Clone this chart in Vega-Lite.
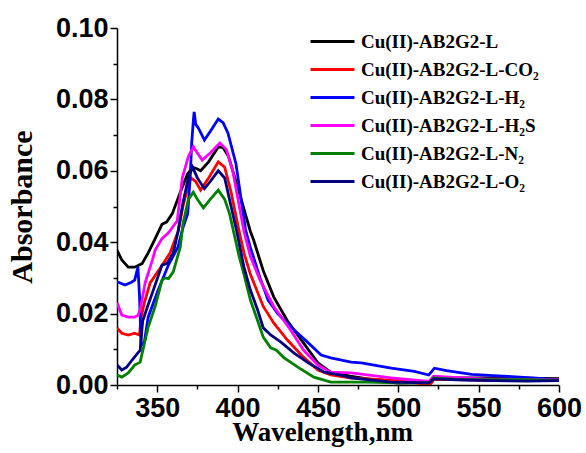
{
"$schema":"https://vega.github.io/schema/vega-lite/v6.json",
"width":442,"height":357,
"autosize":{"type":"none"},
"padding":{"left":117,"top":28,"right":27,"bottom":68},
"background":"white",
"config":{"view":{"stroke":null}},
"data":{"values":[
{"s":"Cu(II)-AB2G2-L","wl":325,"a":0.0378},{"s":"Cu(II)-AB2G2-L","wl":328,"a":0.035},{"s":"Cu(II)-AB2G2-L","wl":332,"a":0.033},{"s":"Cu(II)-AB2G2-L","wl":336,"a":0.033},{"s":"Cu(II)-AB2G2-L","wl":340.6,"a":0.034},{"s":"Cu(II)-AB2G2-L","wl":344.4,"a":0.037},{"s":"Cu(II)-AB2G2-L","wl":348.75,"a":0.041},{"s":"Cu(II)-AB2G2-L","wl":353,"a":0.045},{"s":"Cu(II)-AB2G2-L","wl":356,"a":0.0457},{"s":"Cu(II)-AB2G2-L","wl":359.4,"a":0.048},{"s":"Cu(II)-AB2G2-L","wl":364.4,"a":0.054},{"s":"Cu(II)-AB2G2-L","wl":368.75,"a":0.059},{"s":"Cu(II)-AB2G2-L","wl":372,"a":0.061},{"s":"Cu(II)-AB2G2-L","wl":375,"a":0.0605},{"s":"Cu(II)-AB2G2-L","wl":377,"a":0.060},{"s":"Cu(II)-AB2G2-L","wl":382,"a":0.0625},{"s":"Cu(II)-AB2G2-L","wl":388,"a":0.0667},{"s":"Cu(II)-AB2G2-L","wl":391,"a":0.0665},{"s":"Cu(II)-AB2G2-L","wl":394.4,"a":0.064},{"s":"Cu(II)-AB2G2-L","wl":400.6,"a":0.0546},{"s":"Cu(II)-AB2G2-L","wl":408,"a":0.043},{"s":"Cu(II)-AB2G2-L","wl":410,"a":0.0406},{"s":"Cu(II)-AB2G2-L","wl":416,"a":0.032},{"s":"Cu(II)-AB2G2-L","wl":422.5,"a":0.0247},{"s":"Cu(II)-AB2G2-L","wl":431,"a":0.018},{"s":"Cu(II)-AB2G2-L","wl":441,"a":0.0118},{"s":"Cu(II)-AB2G2-L","wl":450,"a":0.0062},{"s":"Cu(II)-AB2G2-L","wl":458,"a":0.0036},{"s":"Cu(II)-AB2G2-L","wl":470,"a":0.0025},{"s":"Cu(II)-AB2G2-L","wl":480,"a":0.0018},{"s":"Cu(II)-AB2G2-L","wl":490,"a":0.001},{"s":"Cu(II)-AB2G2-L","wl":500,"a":0.0005},{"s":"Cu(II)-AB2G2-L","wl":510,"a":0.0006},{"s":"Cu(II)-AB2G2-L","wl":519,"a":0.0006},{"s":"Cu(II)-AB2G2-L","wl":522,"a":0.002},{"s":"Cu(II)-AB2G2-L","wl":540,"a":0.002},{"s":"Cu(II)-AB2G2-L","wl":560,"a":0.002},{"s":"Cu(II)-AB2G2-L","wl":580,"a":0.0019},{"s":"Cu(II)-AB2G2-L","wl":600,"a":0.0018},
{"s":"Cu(II)-AB2G2-L-CO₂","wl":325,"a":0.016},{"s":"Cu(II)-AB2G2-L-CO₂","wl":328,"a":0.0145},{"s":"Cu(II)-AB2G2-L-CO₂","wl":332,"a":0.014},{"s":"Cu(II)-AB2G2-L-CO₂","wl":336,"a":0.0145},{"s":"Cu(II)-AB2G2-L-CO₂","wl":339,"a":0.014},{"s":"Cu(II)-AB2G2-L-CO₂","wl":340,"a":0.019},{"s":"Cu(II)-AB2G2-L-CO₂","wl":342,"a":0.023},{"s":"Cu(II)-AB2G2-L-CO₂","wl":345.6,"a":0.0286},{"s":"Cu(II)-AB2G2-L-CO₂","wl":352,"a":0.0328},{"s":"Cu(II)-AB2G2-L-CO₂","wl":358,"a":0.037},{"s":"Cu(II)-AB2G2-L-CO₂","wl":363,"a":0.043},{"s":"Cu(II)-AB2G2-L-CO₂","wl":366,"a":0.050},{"s":"Cu(II)-AB2G2-L-CO₂","wl":369.4,"a":0.056},{"s":"Cu(II)-AB2G2-L-CO₂","wl":371,"a":0.058},{"s":"Cu(II)-AB2G2-L-CO₂","wl":374,"a":0.057},{"s":"Cu(II)-AB2G2-L-CO₂","wl":377,"a":0.0546},{"s":"Cu(II)-AB2G2-L-CO₂","wl":382,"a":0.058},{"s":"Cu(II)-AB2G2-L-CO₂","wl":388,"a":0.0625},{"s":"Cu(II)-AB2G2-L-CO₂","wl":392,"a":0.061},{"s":"Cu(II)-AB2G2-L-CO₂","wl":396,"a":0.054},{"s":"Cu(II)-AB2G2-L-CO₂","wl":401,"a":0.043},{"s":"Cu(II)-AB2G2-L-CO₂","wl":404,"a":0.037},{"s":"Cu(II)-AB2G2-L-CO₂","wl":408,"a":0.031},{"s":"Cu(II)-AB2G2-L-CO₂","wl":416,"a":0.022},{"s":"Cu(II)-AB2G2-L-CO₂","wl":422.5,"a":0.0174},{"s":"Cu(II)-AB2G2-L-CO₂","wl":431,"a":0.0126},{"s":"Cu(II)-AB2G2-L-CO₂","wl":441,"a":0.0078},{"s":"Cu(II)-AB2G2-L-CO₂","wl":450,"a":0.0042},{"s":"Cu(II)-AB2G2-L-CO₂","wl":458,"a":0.0028},{"s":"Cu(II)-AB2G2-L-CO₂","wl":470,"a":0.002},{"s":"Cu(II)-AB2G2-L-CO₂","wl":490,"a":0.0015},{"s":"Cu(II)-AB2G2-L-CO₂","wl":505,"a":0.001},{"s":"Cu(II)-AB2G2-L-CO₂","wl":515,"a":0.0003},{"s":"Cu(II)-AB2G2-L-CO₂","wl":520,"a":0.0002},{"s":"Cu(II)-AB2G2-L-CO₂","wl":522,"a":0.0015},{"s":"Cu(II)-AB2G2-L-CO₂","wl":540,"a":0.0015},{"s":"Cu(II)-AB2G2-L-CO₂","wl":560,"a":0.0012},{"s":"Cu(II)-AB2G2-L-CO₂","wl":580,"a":0.0013},{"s":"Cu(II)-AB2G2-L-CO₂","wl":600,"a":0.0014},
{"s":"Cu(II)-AB2G2-L-H₂","wl":325,"a":0.0289},{"s":"Cu(II)-AB2G2-L-H₂","wl":330,"a":0.028},{"s":"Cu(II)-AB2G2-L-H₂","wl":334,"a":0.0288},{"s":"Cu(II)-AB2G2-L-H₂","wl":336,"a":0.0294},{"s":"Cu(II)-AB2G2-L-H₂","wl":338,"a":0.033},{"s":"Cu(II)-AB2G2-L-H₂","wl":339,"a":0.025},{"s":"Cu(II)-AB2G2-L-H₂","wl":340,"a":0.011},{"s":"Cu(II)-AB2G2-L-H₂","wl":342,"a":0.012},{"s":"Cu(II)-AB2G2-L-H₂","wl":344.4,"a":0.019},{"s":"Cu(II)-AB2G2-L-H₂","wl":350.6,"a":0.0266},{"s":"Cu(II)-AB2G2-L-H₂","wl":357,"a":0.0336},{"s":"Cu(II)-AB2G2-L-H₂","wl":363,"a":0.0387},{"s":"Cu(II)-AB2G2-L-H₂","wl":366,"a":0.044},{"s":"Cu(II)-AB2G2-L-H₂","wl":369,"a":0.048},{"s":"Cu(II)-AB2G2-L-H₂","wl":370.5,"a":0.058},{"s":"Cu(II)-AB2G2-L-H₂","wl":371.5,"a":0.068},{"s":"Cu(II)-AB2G2-L-H₂","wl":372.5,"a":0.074},{"s":"Cu(II)-AB2G2-L-H₂","wl":373,"a":0.0765},{"s":"Cu(II)-AB2G2-L-H₂","wl":374,"a":0.073},{"s":"Cu(II)-AB2G2-L-H₂","wl":375.6,"a":0.072},{"s":"Cu(II)-AB2G2-L-H₂","wl":379.4,"a":0.0686},{"s":"Cu(II)-AB2G2-L-H₂","wl":383,"a":0.071},{"s":"Cu(II)-AB2G2-L-H₂","wl":388,"a":0.0745},{"s":"Cu(II)-AB2G2-L-H₂","wl":391,"a":0.0735},{"s":"Cu(II)-AB2G2-L-H₂","wl":394,"a":0.0706},{"s":"Cu(II)-AB2G2-L-H₂","wl":399,"a":0.062},{"s":"Cu(II)-AB2G2-L-H₂","wl":405,"a":0.0434},{"s":"Cu(II)-AB2G2-L-H₂","wl":408,"a":0.0385},{"s":"Cu(II)-AB2G2-L-H₂","wl":414,"a":0.030},{"s":"Cu(II)-AB2G2-L-H₂","wl":419,"a":0.0238},{"s":"Cu(II)-AB2G2-L-H₂","wl":425,"a":0.020},{"s":"Cu(II)-AB2G2-L-H₂","wl":433,"a":0.0163},{"s":"Cu(II)-AB2G2-L-H₂","wl":444,"a":0.0118},{"s":"Cu(II)-AB2G2-L-H₂","wl":452,"a":0.0084},{"s":"Cu(II)-AB2G2-L-H₂","wl":458,"a":0.0076},{"s":"Cu(II)-AB2G2-L-H₂","wl":470.6,"a":0.0064},{"s":"Cu(II)-AB2G2-L-H₂","wl":477,"a":0.0062},{"s":"Cu(II)-AB2G2-L-H₂","wl":495.6,"a":0.0047},{"s":"Cu(II)-AB2G2-L-H₂","wl":510,"a":0.0038},{"s":"Cu(II)-AB2G2-L-H₂","wl":519,"a":0.0028},{"s":"Cu(II)-AB2G2-L-H₂","wl":522.5,"a":0.0047},{"s":"Cu(II)-AB2G2-L-H₂","wl":530,"a":0.004},{"s":"Cu(II)-AB2G2-L-H₂","wl":545.6,"a":0.003},{"s":"Cu(II)-AB2G2-L-H₂","wl":565,"a":0.0025},{"s":"Cu(II)-AB2G2-L-H₂","wl":583,"a":0.002},{"s":"Cu(II)-AB2G2-L-H₂","wl":600,"a":0.0014},
{"s":"Cu(II)-AB2G2-L-H₂S","wl":325,"a":0.023},{"s":"Cu(II)-AB2G2-L-H₂S","wl":328,"a":0.0196},{"s":"Cu(II)-AB2G2-L-H₂S","wl":332,"a":0.019},{"s":"Cu(II)-AB2G2-L-H₂S","wl":336,"a":0.019},{"s":"Cu(II)-AB2G2-L-H₂S","wl":338,"a":0.0195},{"s":"Cu(II)-AB2G2-L-H₂S","wl":339.4,"a":0.021},{"s":"Cu(II)-AB2G2-L-H₂S","wl":342.5,"a":0.0286},{"s":"Cu(II)-AB2G2-L-H₂S","wl":347,"a":0.035},{"s":"Cu(II)-AB2G2-L-H₂S","wl":348.75,"a":0.0378},{"s":"Cu(II)-AB2G2-L-H₂S","wl":353,"a":0.041},{"s":"Cu(II)-AB2G2-L-H₂S","wl":357,"a":0.0426},{"s":"Cu(II)-AB2G2-L-H₂S","wl":362.5,"a":0.046},{"s":"Cu(II)-AB2G2-L-H₂S","wl":365.6,"a":0.058},{"s":"Cu(II)-AB2G2-L-H₂S","wl":369.4,"a":0.064},{"s":"Cu(II)-AB2G2-L-H₂S","wl":372.5,"a":0.0667},{"s":"Cu(II)-AB2G2-L-H₂S","wl":375,"a":0.065},{"s":"Cu(II)-AB2G2-L-H₂S","wl":378,"a":0.063},{"s":"Cu(II)-AB2G2-L-H₂S","wl":383,"a":0.065},{"s":"Cu(II)-AB2G2-L-H₂S","wl":389,"a":0.0678},{"s":"Cu(II)-AB2G2-L-H₂S","wl":393,"a":0.066},{"s":"Cu(II)-AB2G2-L-H₂S","wl":397,"a":0.060},{"s":"Cu(II)-AB2G2-L-H₂S","wl":404,"a":0.043},{"s":"Cu(II)-AB2G2-L-H₂S","wl":408,"a":0.036},{"s":"Cu(II)-AB2G2-L-H₂S","wl":414,"a":0.0294},{"s":"Cu(II)-AB2G2-L-H₂S","wl":422.5,"a":0.022},{"s":"Cu(II)-AB2G2-L-H₂S","wl":433,"a":0.0154},{"s":"Cu(II)-AB2G2-L-H₂S","wl":441,"a":0.0098},{"s":"Cu(II)-AB2G2-L-H₂S","wl":450,"a":0.0056},{"s":"Cu(II)-AB2G2-L-H₂S","wl":458,"a":0.0036},{"s":"Cu(II)-AB2G2-L-H₂S","wl":470.6,"a":0.0034},{"s":"Cu(II)-AB2G2-L-H₂S","wl":495.6,"a":0.002},{"s":"Cu(II)-AB2G2-L-H₂S","wl":519,"a":0.001},{"s":"Cu(II)-AB2G2-L-H₂S","wl":522,"a":0.0025},{"s":"Cu(II)-AB2G2-L-H₂S","wl":540,"a":0.002},{"s":"Cu(II)-AB2G2-L-H₂S","wl":554,"a":0.0017},{"s":"Cu(II)-AB2G2-L-H₂S","wl":580,"a":0.0015},{"s":"Cu(II)-AB2G2-L-H₂S","wl":600,"a":0.0014},
{"s":"Cu(II)-AB2G2-L-N₂","wl":325,"a":0.0028},{"s":"Cu(II)-AB2G2-L-N₂","wl":328,"a":0.0022},{"s":"Cu(II)-AB2G2-L-N₂","wl":332,"a":0.0034},{"s":"Cu(II)-AB2G2-L-N₂","wl":336,"a":0.0056},{"s":"Cu(II)-AB2G2-L-N₂","wl":339.4,"a":0.0064},{"s":"Cu(II)-AB2G2-L-N₂","wl":344.4,"a":0.0162},{"s":"Cu(II)-AB2G2-L-N₂","wl":348.75,"a":0.022},{"s":"Cu(II)-AB2G2-L-N₂","wl":353,"a":0.0294},{"s":"Cu(II)-AB2G2-L-N₂","wl":355,"a":0.030},{"s":"Cu(II)-AB2G2-L-N₂","wl":357,"a":0.0298},{"s":"Cu(II)-AB2G2-L-N₂","wl":360,"a":0.0317},{"s":"Cu(II)-AB2G2-L-N₂","wl":364.4,"a":0.0387},{"s":"Cu(II)-AB2G2-L-N₂","wl":366,"a":0.045},{"s":"Cu(II)-AB2G2-L-N₂","wl":369.4,"a":0.052},{"s":"Cu(II)-AB2G2-L-N₂","wl":372.5,"a":0.054},{"s":"Cu(II)-AB2G2-L-N₂","wl":375,"a":0.052},{"s":"Cu(II)-AB2G2-L-N₂","wl":378.75,"a":0.0496},{"s":"Cu(II)-AB2G2-L-N₂","wl":383,"a":0.052},{"s":"Cu(II)-AB2G2-L-N₂","wl":388,"a":0.0546},{"s":"Cu(II)-AB2G2-L-N₂","wl":392,"a":0.052},{"s":"Cu(II)-AB2G2-L-N₂","wl":395,"a":0.048},{"s":"Cu(II)-AB2G2-L-N₂","wl":397.5,"a":0.043},{"s":"Cu(II)-AB2G2-L-N₂","wl":401,"a":0.036},{"s":"Cu(II)-AB2G2-L-N₂","wl":404,"a":0.031},{"s":"Cu(II)-AB2G2-L-N₂","wl":408,"a":0.0238},{"s":"Cu(II)-AB2G2-L-N₂","wl":412.5,"a":0.018},{"s":"Cu(II)-AB2G2-L-N₂","wl":416,"a":0.0134},{"s":"Cu(II)-AB2G2-L-N₂","wl":420.6,"a":0.0104},{"s":"Cu(II)-AB2G2-L-N₂","wl":424,"a":0.0098},{"s":"Cu(II)-AB2G2-L-N₂","wl":429,"a":0.0076},{"s":"Cu(II)-AB2G2-L-N₂","wl":437.5,"a":0.005},{"s":"Cu(II)-AB2G2-L-N₂","wl":447.5,"a":0.0022},{"s":"Cu(II)-AB2G2-L-N₂","wl":458,"a":0.0008},{"s":"Cu(II)-AB2G2-L-N₂","wl":480,"a":0.0008},{"s":"Cu(II)-AB2G2-L-N₂","wl":500,"a":0.0006},{"s":"Cu(II)-AB2G2-L-N₂","wl":519,"a":0.0006},{"s":"Cu(II)-AB2G2-L-N₂","wl":522,"a":0.002},{"s":"Cu(II)-AB2G2-L-N₂","wl":540,"a":0.0015},{"s":"Cu(II)-AB2G2-L-N₂","wl":560,"a":0.0015},{"s":"Cu(II)-AB2G2-L-N₂","wl":580,"a":0.0015},{"s":"Cu(II)-AB2G2-L-N₂","wl":600,"a":0.0013},
{"s":"Cu(II)-AB2G2-L-O₂","wl":325,"a":0.0056},{"s":"Cu(II)-AB2G2-L-O₂","wl":328,"a":0.0042},{"s":"Cu(II)-AB2G2-L-O₂","wl":331,"a":0.005},{"s":"Cu(II)-AB2G2-L-O₂","wl":334.4,"a":0.007},{"s":"Cu(II)-AB2G2-L-O₂","wl":338,"a":0.009},{"s":"Cu(II)-AB2G2-L-O₂","wl":339.4,"a":0.0097},{"s":"Cu(II)-AB2G2-L-O₂","wl":341,"a":0.018},{"s":"Cu(II)-AB2G2-L-O₂","wl":344,"a":0.022},{"s":"Cu(II)-AB2G2-L-O₂","wl":347,"a":0.0258},{"s":"Cu(II)-AB2G2-L-O₂","wl":353,"a":0.0336},{"s":"Cu(II)-AB2G2-L-O₂","wl":356,"a":0.034},{"s":"Cu(II)-AB2G2-L-O₂","wl":360,"a":0.037},{"s":"Cu(II)-AB2G2-L-O₂","wl":363,"a":0.043},{"s":"Cu(II)-AB2G2-L-O₂","wl":366,"a":0.051},{"s":"Cu(II)-AB2G2-L-O₂","wl":369.4,"a":0.058},{"s":"Cu(II)-AB2G2-L-O₂","wl":372,"a":0.061},{"s":"Cu(II)-AB2G2-L-O₂","wl":375,"a":0.058},{"s":"Cu(II)-AB2G2-L-O₂","wl":379.4,"a":0.055},{"s":"Cu(II)-AB2G2-L-O₂","wl":383,"a":0.057},{"s":"Cu(II)-AB2G2-L-O₂","wl":388,"a":0.060},{"s":"Cu(II)-AB2G2-L-O₂","wl":392,"a":0.058},{"s":"Cu(II)-AB2G2-L-O₂","wl":395,"a":0.052},{"s":"Cu(II)-AB2G2-L-O₂","wl":399.5,"a":0.043},{"s":"Cu(II)-AB2G2-L-O₂","wl":404,"a":0.033},{"s":"Cu(II)-AB2G2-L-O₂","wl":408,"a":0.0266},{"s":"Cu(II)-AB2G2-L-O₂","wl":412.5,"a":0.021},{"s":"Cu(II)-AB2G2-L-O₂","wl":416,"a":0.016},{"s":"Cu(II)-AB2G2-L-O₂","wl":420.6,"a":0.014},{"s":"Cu(II)-AB2G2-L-O₂","wl":427,"a":0.012},{"s":"Cu(II)-AB2G2-L-O₂","wl":435,"a":0.009},{"s":"Cu(II)-AB2G2-L-O₂","wl":444,"a":0.0062},{"s":"Cu(II)-AB2G2-L-O₂","wl":454,"a":0.0036},{"s":"Cu(II)-AB2G2-L-O₂","wl":464,"a":0.0028},{"s":"Cu(II)-AB2G2-L-O₂","wl":470.6,"a":0.002},{"s":"Cu(II)-AB2G2-L-O₂","wl":495.6,"a":0.0008},{"s":"Cu(II)-AB2G2-L-O₂","wl":519,"a":0.0006},{"s":"Cu(II)-AB2G2-L-O₂","wl":522,"a":0.0017},{"s":"Cu(II)-AB2G2-L-O₂","wl":540,"a":0.0014},{"s":"Cu(II)-AB2G2-L-O₂","wl":560,"a":0.0012},{"s":"Cu(II)-AB2G2-L-O₂","wl":580,"a":0.0011},{"s":"Cu(II)-AB2G2-L-O₂","wl":600,"a":0.0012}
]},
"layer":[
{"mark":{"type":"line","strokeWidth":2.8,"clip":true},
 "encoding":{
  "x":{"field":"wl","type":"quantitative","scale":{"domain":[325,600],"nice":false,"zero":false},
   "axis":{"title":"Wavelength,nm","values":[350,400,450,500,550,600],"grid":false,"domainColor":"black","domainWidth":1.5,"tickColor":"black","tickWidth":1.5,"tickSize":7,"labelPadding":3,"labelFont":"Liberation Sans","labelFontWeight":"bold","labelFontSize":27,"labelColor":"black","labelFlush":false,"titleFont":"Liberation Serif","titleFontWeight":"bold","titleFontSize":27,"titleColor":"black","titlePadding":-2,"titleX":205}},
  "y":{"field":"a","type":"quantitative","scale":{"domain":[0,0.1],"nice":false},
   "axis":{"title":"Absorbance","values":[0,0.02,0.04,0.06,0.08,0.1],"format":".2f","grid":false,"domainColor":"black","domainWidth":1.5,"tickColor":"black","tickWidth":1.5,"tickSize":7,"labelPadding":2,"labelFont":"Liberation Sans","labelFontWeight":"bold","labelFontSize":27,"labelColor":"black","labelFlush":false,"titleFont":"Liberation Serif","titleFontWeight":"bold","titleFontSize":30,"titleColor":"black","titlePadding":18}},
  "color":{"field":"s","type":"nominal",
   "scale":{"domain":["Cu(II)-AB2G2-L","Cu(II)-AB2G2-L-CO₂","Cu(II)-AB2G2-L-H₂","Cu(II)-AB2G2-L-H₂S","Cu(II)-AB2G2-L-N₂","Cu(II)-AB2G2-L-O₂"],"range":["#000000","#ff0000","#0000ff","#ff00ff","#008000","#000080"]},
   "legend":{"title":null,"orient":"none","legendX":206,"legendY":4,"symbolType":"M-3,0H3","symbolSize":215,"symbolStrokeWidth":3,"labelFont":"Liberation Serif","labelFontWeight":"bold","labelFontSize":19,"labelColor":"black","labelOffset":19,"rowPadding":8,"labelLimit":300}}
 }},
{"mark":{"type":"line","opacity":0},
 "encoding":{
  "x":{"field":"wl","type":"quantitative","scale":{"domain":[325,600],"nice":false,"zero":false},
   "axis":{"orient":"bottom","title":null,"values":[325,375,425,475,525,575],"labels":false,"domain":false,"grid":false,"tickColor":"black","tickWidth":1.5,"tickSize":4}},
  "y":{"field":"a","type":"quantitative","scale":{"domain":[0,0.1],"nice":false},
   "axis":{"orient":"left","title":null,"values":[0.01,0.03,0.05,0.07,0.09],"labels":false,"domain":false,"grid":false,"tickColor":"black","tickWidth":1.5,"tickSize":4}},
  "detail":{"field":"s","type":"nominal"}
 }}
],
"resolve":{"scale":{"x":"independent","y":"independent"}}
}
